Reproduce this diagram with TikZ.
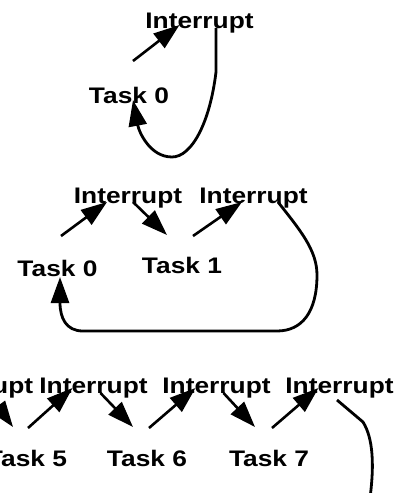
\documentclass[tikz,border=0pt]{standalone}
\usepackage{fontspec}
\usetikzlibrary{arrows.meta}
\newfontfamily\taskfont{Liberation Sans}[FakeStretch=1.17]
\tikzstyle{lbl}=[font=\taskfont\bfseries\fontsize{22.5}{27}\selectfont, inner sep=0pt, anchor=base]
\tikzstyle{back}=[line width=2.8pt]

\begin{document}
\begin{tikzpicture}[x=1pt, y=-1pt, >={Triangle[length=26pt,width=18pt]}, line width=2.6pt]
    \useasboundingbox (0,0) rectangle (398,493);
    \clip (0,0) rectangle (398,493);
    % one task
    \node[lbl] (int0) at (199.5,28) {Interrupt};
    \node[lbl] (tsk0) at (129,103) {Task 0};
    \draw[->] ([shift={(4,-42)}]tsk0.base) -- ([shift={(-20,-3)}]int0.base);
    \draw[->, back] ([shift={(16.5,0)}]int0.base) -- ++(0,44)
        .. controls (210,122) and (192,157) .. (172,157)
        .. controls (150,157) and (139,132) .. ([shift={(4,-3)}]tsk0.base);
    % two tasks
    \node[lbl] (int1) at (128,203) {Interrupt};
    \node[lbl] (int2) at (253.5,203) {Interrupt};
    \node[lbl] (tsk0b) at (57.5,276) {Task 0};
    \node[lbl] (tsk1) at (182,273) {Task 1};
    \draw[->] ([shift={(3.5,-40)}]tsk0b.base) -- ([shift={(-21,-1)}]int1.base);
    \draw[->] ([shift={(5,-1)}]int1.base) -- ([shift={(-15,-38)}]tsk1.base);
    \draw[->] ([shift={(11,-37)}]tsk1.base) -- ([shift={(-11.5,-1)}]int2.base);
    \draw[->, back] ([shift={(24.5,-1)}]int2.base)
        .. controls (300,230) and (317,250) .. (317,275)
        .. controls (317,312) and (302,331) .. (277,331) -- (83,331)
        .. controls (66,331) and (60,318) .. ([shift={(2.5,1)}]tsk0b.base);
    % many tasks
    \node[lbl] (intL) at (-21,393) {Interrupt};
    \node[lbl] (intA) at (93.5,393) {Interrupt};
    \node[lbl] (intB) at (216.5,393) {Interrupt};
    \node[lbl] (intC) at (339.5,393) {Interrupt};
    \node[lbl] (tsk5) at (27,466) {Task 5};
    \node[lbl] (tsk6) at (147,466) {Task 6};
    \node[lbl] (tsk7) at (269,466) {Task 7};
    \coordinate (exit7) at (369,505);
    \draw[->] ([shift={(9,0)}]intL.base) -- ([shift={(-14,-39)}]tsk5.base);
    \draw[->] ([shift={(7,0)}]intA.base) -- ([shift={(-14,-39)}]tsk6.base);
    \draw[->] ([shift={(7,0)}]intB.base) -- ([shift={(-14,-39)}]tsk7.base);
    \draw[->] ([shift={(1,-38)}]tsk5.base) -- ([shift={(-21,-5)}]intA.base);
    \draw[->] ([shift={(2,-38)}]tsk6.base) -- ([shift={(-21,-5)}]intB.base);
    \draw[->] ([shift={(3,-38)}]tsk7.base) -- ([shift={(-21,-5)}]intC.base);
    \draw[back] ([shift={(-2.5,7)}]intC.base) -- (363,422)
        .. controls (373,438) and (375,465) .. (exit7);
\end{tikzpicture}
\end{document}
